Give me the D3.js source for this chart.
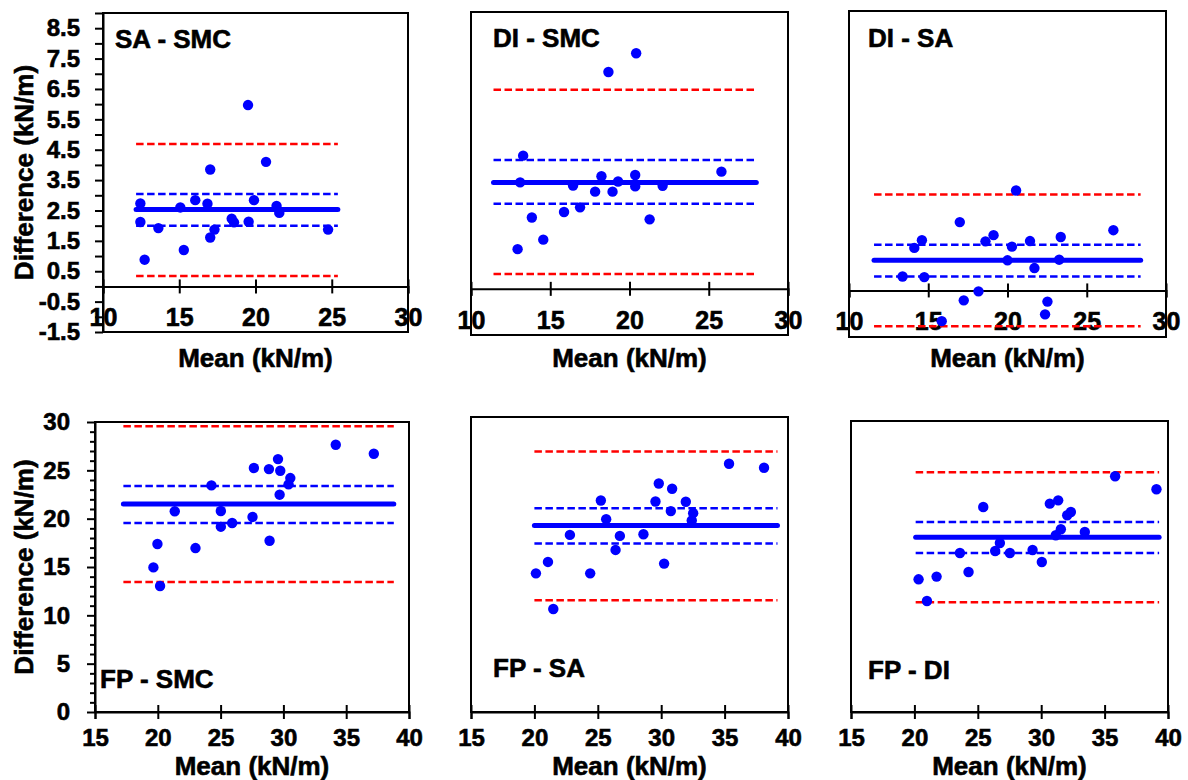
<!DOCTYPE html>
<html>
<head>
<meta charset="utf-8">
<script src="https://cdn.jsdelivr.net/npm/d3@7"></script>
<style>
  body { margin: 0; background: #fff; }
  svg { display: block; font-family: "Liberation Sans", Arial, sans-serif; font-weight: bold; }
  svg text { stroke: #000; stroke-width: 0.6px; }
</style>
</head>
<body>
<svg id="chart" width="1188" height="780"></svg>
<script>
// Bland-Altman panels: difference vs mean for each method pair
const pairNames = ['SA - SMC', 'DI - SMC', 'DI - SA', 'FP - SMC', 'FP - SA', 'FP - DI']

const meanSaSmc = [12.45, 12.45, 12.73, 13.63, 15.07, 15.3, 16.05, 16.85, 17.03, 17.03, 17.31, 18.44, 18.59, 19.51, 19.55, 19.9, 20.69, 21.38, 21.56, 24.76]
const diffSaSmc = [2.73, 2.12, 0.88, 1.92, 2.6, 1.2, 2.84, 2.72, 3.85, 1.61, 1.87, 2.23, 2.11, 5.97, 2.13, 2.84, 4.1, 2.65, 2.42, 1.87]

const meanDiSmc = [12.94, 13.1, 13.29, 13.84, 14.56, 15.87, 16.44, 16.88, 17.83, 18.23, 18.67, 18.93, 19.28, 20.36, 20.36, 20.42, 21.27, 22.09, 25.8]
const diffDiSmc = [1.29, 3.46, 4.33, 2.32, 1.6, 2.5, 3.36, 2.65, 3.16, 3.66, 7.05, 3.16, 3.49, 3.7, 3.33, 7.66, 2.26, 3.35, 3.81]

const meanDiSa = [13.38, 14.12, 14.6, 14.75, 15.85, 16.99, 17.24, 18.17, 18.61, 19.12, 20.0, 20.28, 20.54, 21.42, 21.7, 22.37, 22.52, 23.26, 23.36, 26.68]
const diffDiSa = [0.45, 1.37, 1.62, 0.43, -0.99, 2.2, -0.32, -0.03, 1.58, 1.78, 0.97, 1.41, 3.22, 1.59, 0.72, -0.77, -0.36, 0.99, 1.72, 1.94]

const meanFpSmc = [19.65, 19.97, 20.18, 21.35, 23.0, 24.27, 25.02, 25.02, 25.92, 27.54, 27.65, 28.85, 28.9, 29.57, 29.75, 29.7, 30.41, 30.55, 34.17, 37.2]
const diffFpSmc = [14.96, 17.38, 13.03, 20.76, 16.96, 23.44, 20.79, 19.17, 19.55, 20.17, 25.24, 25.13, 17.72, 26.16, 24.96, 22.48, 23.55, 24.2, 27.65, 26.72]

const meanFpSa = [20.12, 21.07, 21.49, 22.8, 24.4, 25.24, 25.66, 26.4, 26.74, 28.6, 29.55, 29.81, 30.23, 30.76, 30.86, 31.94, 32.52, 32.41, 35.35, 38.11]
const diffFpSa = [14.1, 15.26, 10.47, 18.01, 14.1, 21.51, 19.61, 16.48, 17.91, 18.08, 21.41, 23.24, 15.09, 20.43, 22.7, 21.38, 20.22, 19.47, 25.25, 24.84]

const meanFpDi = [20.33, 20.99, 21.75, 23.59, 24.27, 25.43, 26.37, 26.74, 27.53, 29.32, 30.05, 30.68, 31.34, 31.15, 31.55, 32.05, 32.34, 33.44, 35.83, 39.09]
const diffFpDi = [13.68, 11.44, 13.96, 16.39, 14.43, 21.13, 16.6, 17.42, 16.39, 16.7, 15.46, 21.48, 21.82, 18.22, 18.84, 20.28, 20.62, 18.56, 24.3, 22.96]

const meansByPanel = [meanSaSmc, meanDiSmc, meanDiSa, meanFpSmc, meanFpSa, meanFpDi]
const diffsByPanel = [diffSaSmc, diffDiSmc, diffDiSa, diffFpSmc, diffFpSa, diffFpDi]

// bias line, 95% CI of bias, limits of agreement
const bias     = [2.53, 3.46, 0.97, 21.51, 18.96, 18.01]
const ciUpper  = [3.04, 4.19, 1.47, 23.37, 20.73, 19.59]
const ciLower  = [2.0, 2.77, 0.45, 19.55, 17.13, 16.39]
const loaUpper = [4.69, 6.47, 3.09, 29.55, 26.5, 24.71]
const loaLower = [0.34, 0.48, -1.15, 13.44, 11.36, 11.31]
const lineFrom = [12.17, 11.42, 11.58, 17.26, 20.0, 20.1]
const lineTo   = [25.4, 28.0, 28.4, 38.79, 39.17, 39.3]

// tick labels
const topXTicks = [10, 15, 20, 25, 30]
const topYLabels = [-1.5, -0.5, 0.5, 1.5, 2.5, 3.5, 4.5, 5.5, 6.5, 7.5, 8.5]
const bottomXTicks = [15, 20, 25, 30, 35, 40]
const bottomYLabels = [0, 5, 10, 15, 20, 25, 30]

const xTitle = 'Mean (kN/m)'
const yTitle = 'Difference (kN/m)'

// layout of each panel box (pixels)
const boxes = [
  {l: 103, r: 408, t: 13, b: 332, lx: 115, ly: 48},
  {l: 471, r: 788, t: 12, b: 335, lx: 493, ly: 47},
  {l: 849, r: 1166, t: 11, b: 337, lx: 868, ly: 47},
  {l: 95, r: 409, t: 422, b: 712, lx: 100, ly: 688},
  {l: 471, r: 788, t: 417, b: 712, lx: 493, ly: 677},
  {l: 851, r: 1168, t: 421, b: 712, lx: 868, ly: 679}
]

const svg = d3.select('#chart')
svg.append('rect').attr('width', 1188).attr('height', 780).attr('fill', '#fff')

boxes.forEach((box, i) => {
  const top = i < 3
  const g = svg.append('g')

  const x = d3.scaleLinear()
    .domain(top ? [10, 30] : [15, 40])
    .range([box.l, box.r])
  const y = d3.scaleLinear()
    .domain(top ? [-1.5, 9] : [0, 30])
    .range([box.b, box.t])

  // frame
  g.append('rect')
    .attr('x', box.l).attr('y', box.t)
    .attr('width', box.r - box.l).attr('height', box.b - box.t)
    .attr('fill', 'none').attr('stroke', '#000').attr('stroke-width', 2)

  // x axis (at y = 0), ticks crossing the line
  const xAxis = g.append('g')
    .attr('transform', `translate(0,${y(0)})`)
    .call(d3.axisBottom(x).tickValues(top ? topXTicks : bottomXTicks).tickSizeOuter(0).tickSize(7))
  xAxis.select('.domain').attr('stroke-width', 2)
  xAxis.selectAll('.tick line').attr('y1', -7).attr('y2', 7).attr('stroke-width', 2)
  xAxis.selectAll('.tick text')
    .attr('y', top ? 40 : 34).attr('dy', 0)
    .attr('fill', '#000')
    .style('font-size', top ? '25px' : '24px')
    .style('font-weight', 'bold')
    .style('font-family', '"Liberation Sans", Arial, sans-serif')

  // y axis only on the left column
  if (i === 0 || i === 3) {
    const labels = top ? topYLabels : bottomYLabels
    const allTicks = top ? d3.range(-1.5, 9.01, 0.5) : d3.range(0, 30.01, 1)
    const yAxis = g.append('g')
      .attr('transform', `translate(${box.l},0)`)
      .call(d3.axisLeft(y).tickValues(allTicks).tickSizeOuter(0)
        .tickFormat(d => labels.some(v => Math.abs(v - d) < 1e-6) ? d : ''))
    yAxis.select('.domain').attr('stroke-width', 2)
    yAxis.selectAll('.tick line')
      .attr('stroke-width', 2)
      .attr('x2', d => (top || d % 5 === 0) ? -8 : -5)
    yAxis.selectAll('.tick text')
      .attr('x', top ? -23 : -25)
      .attr('fill', '#000')
      .style('font-size', '24px')
      .style('font-weight', 'bold')
      .style('font-family', '"Liberation Sans", Arial, sans-serif')

    svg.append('text')
      .attr('transform', 'rotate(-90)')
      .attr('x', -(box.t + box.b) / 2)
      .attr('y', 33)
      .attr('text-anchor', 'middle')
      .attr('font-size', 26)
      .text(yTitle)
  }

  // reference lines
  const hline = (v, color, width, dash) => {
    g.append('line')
      .attr('x1', x(lineFrom[i])).attr('x2', x(lineTo[i]))
      .attr('y1', y(v)).attr('y2', y(v))
      .attr('stroke', color)
      .attr('stroke-width', width)
      .attr('stroke-dasharray', dash)
      .attr('stroke-linecap', dash ? 'butt' : 'round')
  }
  hline(loaUpper[i], '#ff0000', 2.5, '7.5,3.5')
  hline(loaLower[i], '#ff0000', 2.5, '7.5,3.5')
  hline(ciUpper[i], '#0000ff', 2.5, '7.5,3.5')
  hline(ciLower[i], '#0000ff', 2.5, '7.5,3.5')
  hline(bias[i], '#0000ff', 5, null)

  // points
  const pts = meansByPanel[i].map((m, k) => ({m: m, d: diffsByPanel[i][k]}))
  g.selectAll('circle')
    .data(pts)
    .join('circle')
    .attr('cx', d => x(d.m))
    .attr('cy', d => y(d.d))
    .attr('r', 5.2)
    .attr('fill', '#0000ff')

  // panel name
  g.append('text')
    .attr('x', box.lx).attr('y', box.ly)
    .attr('font-size', 26)
    .text(pairNames[i])

  // x title
  svg.append('text')
    .attr('x', (box.l + box.r) / 2)
    .attr('y', top ? 367 : 775)
    .attr('text-anchor', 'middle')
    .attr('font-size', 26)
    .text(xTitle)
})
</script>
</body>
</html>
